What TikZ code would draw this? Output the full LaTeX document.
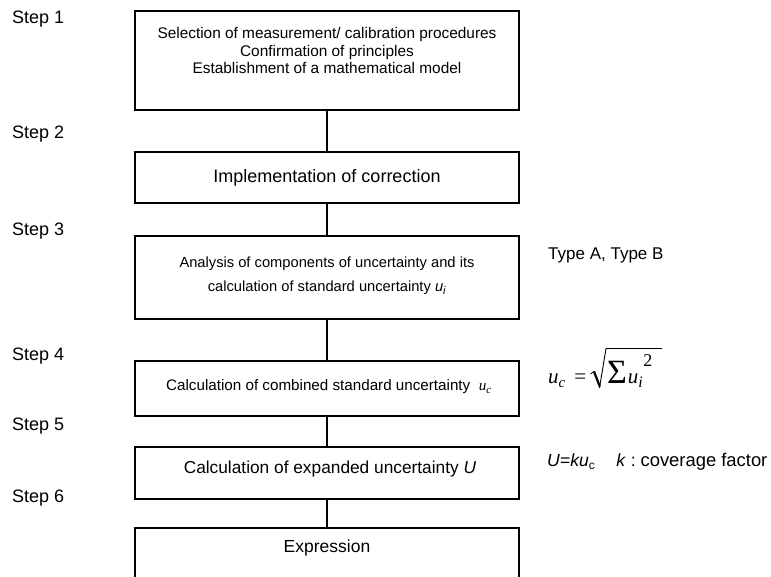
\documentclass[tikz,border=0pt]{standalone}
\usepackage{fontspec}
\setmainfont{Liberation Sans}
\newfontfamily\tms{Liberation Serif}
\begin{document}
\begin{tikzpicture}[x=1pt,y=-1pt,
  box/.style={draw=black, line width=1.3pt, minimum width=384pt, inner sep=0pt},
  conn/.style={line width=1.3pt},
  steplab/.style={anchor=west, inner sep=0pt, font=\fontsize{18}{21}\selectfont},
  txt/.style={inner sep=0pt, align=center},
  note/.style={anchor=west, inner sep=0pt},
  mathnote/.style={anchor=base west, inner sep=0pt, font=\fontsize{21}{24}\selectfont\tms}]
\useasboundingbox (0,0) rectangle (771,577);
\clip (0,0) rectangle (771,577);
% boxes
\node[box, minimum height=99pt] (b1) at (327,60.5) {};
\node[box, minimum height=51pt] (b2) at (327,177.5) {};
\node[box, minimum height=83pt] (b3) at (327,277.5) {};
\node[box, minimum height=55pt] (b4) at (327,388.5) {};
\node[box, minimum height=52pt] (b5) at (327,473) {};
\node[box, minimum height=80pt] (b6) at (327,568) {};
% box texts
\node[txt, font=\fontsize{15.4}{17.5}\selectfont] (t1) at (327,50.5)
  {Selection of measurement/ calibration procedures\\Confirmation of principles\\Establishment of a mathematical model};
\node[txt, font=\fontsize{18}{21}\selectfont] (t2) at (327,177.5) {Implementation of correction};
\node[txt, font=\fontsize{14.7}{24}\selectfont] (t3) at (327,276)
  {Analysis of components of uncertainty and its\\calculation of standard uncertainty \textit{u\textsubscript{\fontsize{11}{11}\selectfont i}}};
\node[txt, font=\fontsize{15.2}{18}\selectfont] (t4) at (329,387)
  {Calculation of combined standard uncertainty \ {\tms\itshape u\textsubscript{\fontsize{11}{11}\selectfont c}}};
\node[txt, font=\fontsize{17.3}{21}\selectfont] (t5) at (330,469) {Calculation of expanded uncertainty \textit{U}};
\node[txt, font=\fontsize{17.5}{21}\selectfont] (t6) at (327,548) {Expression};
% connectors
\draw[conn] (b1.south) -- (b2.north);
\draw[conn] (b2.south) -- (b3.north);
\draw[conn] (b3.south) -- (b4.north);
\draw[conn] (b4.south) -- (b5.north);
\draw[conn] (b5.south) -- (b6.north);
% step labels
\node[steplab] (s1) at (12,19) {Step 1};
\node[steplab] (s2) at (12,134) {Step 2};
\node[steplab] (s3) at (12,231) {Step 3};
\node[steplab] (s4) at (12,356) {Step 4};
\node[steplab] (s5) at (12,426) {Step 5};
\node[steplab] (s6) at (12,498) {Step 6};
% side notes
\node[note, font=\fontsize{17}{20}\selectfont] (n3) at (548,255) {Type A, Type B};
% formula u_c = sqrt(sum u_i^2)
\node[mathnote] (n4a) at (548,383)
  {\itshape u\raisebox{-4pt}{\fontsize{15}{15}\selectfont c}\upshape\hspace{9pt}=};
\node[mathnote] (n4b) at (607,383)
  {\fontsize{34}{34}\selectfont Σ\fontsize{21}{24}\selectfont\itshape\hspace{1pt}u\raisebox{-4pt}{\fontsize{16}{16}\selectfont i}\hspace{0.5pt}\raisebox{17pt}{\upshape\fontsize{18}{18}\selectfont 2}};
\draw[line width=0.8pt, line join=bevel] (590.5,374) -- (594,371.5);
\draw[line width=2.2pt, line cap=butt] (594,371.5) -- (599.8,386.5);
\draw[line width=0.9pt, line join=miter] (599.5,388) -- (606,348.5) -- (662,348.5);
\node[note, font=\fontsize{17.6}{20}\selectfont] (n5) at (547,462)
  {\textit{U}=\textit{ku}\textsubscript{\fontsize{12}{12}\selectfont c}\hspace{21pt}\textit{k}\ :\ {\fontsize{18.4}{20}\selectfont coverage factor}};
\end{tikzpicture}
\end{document}
